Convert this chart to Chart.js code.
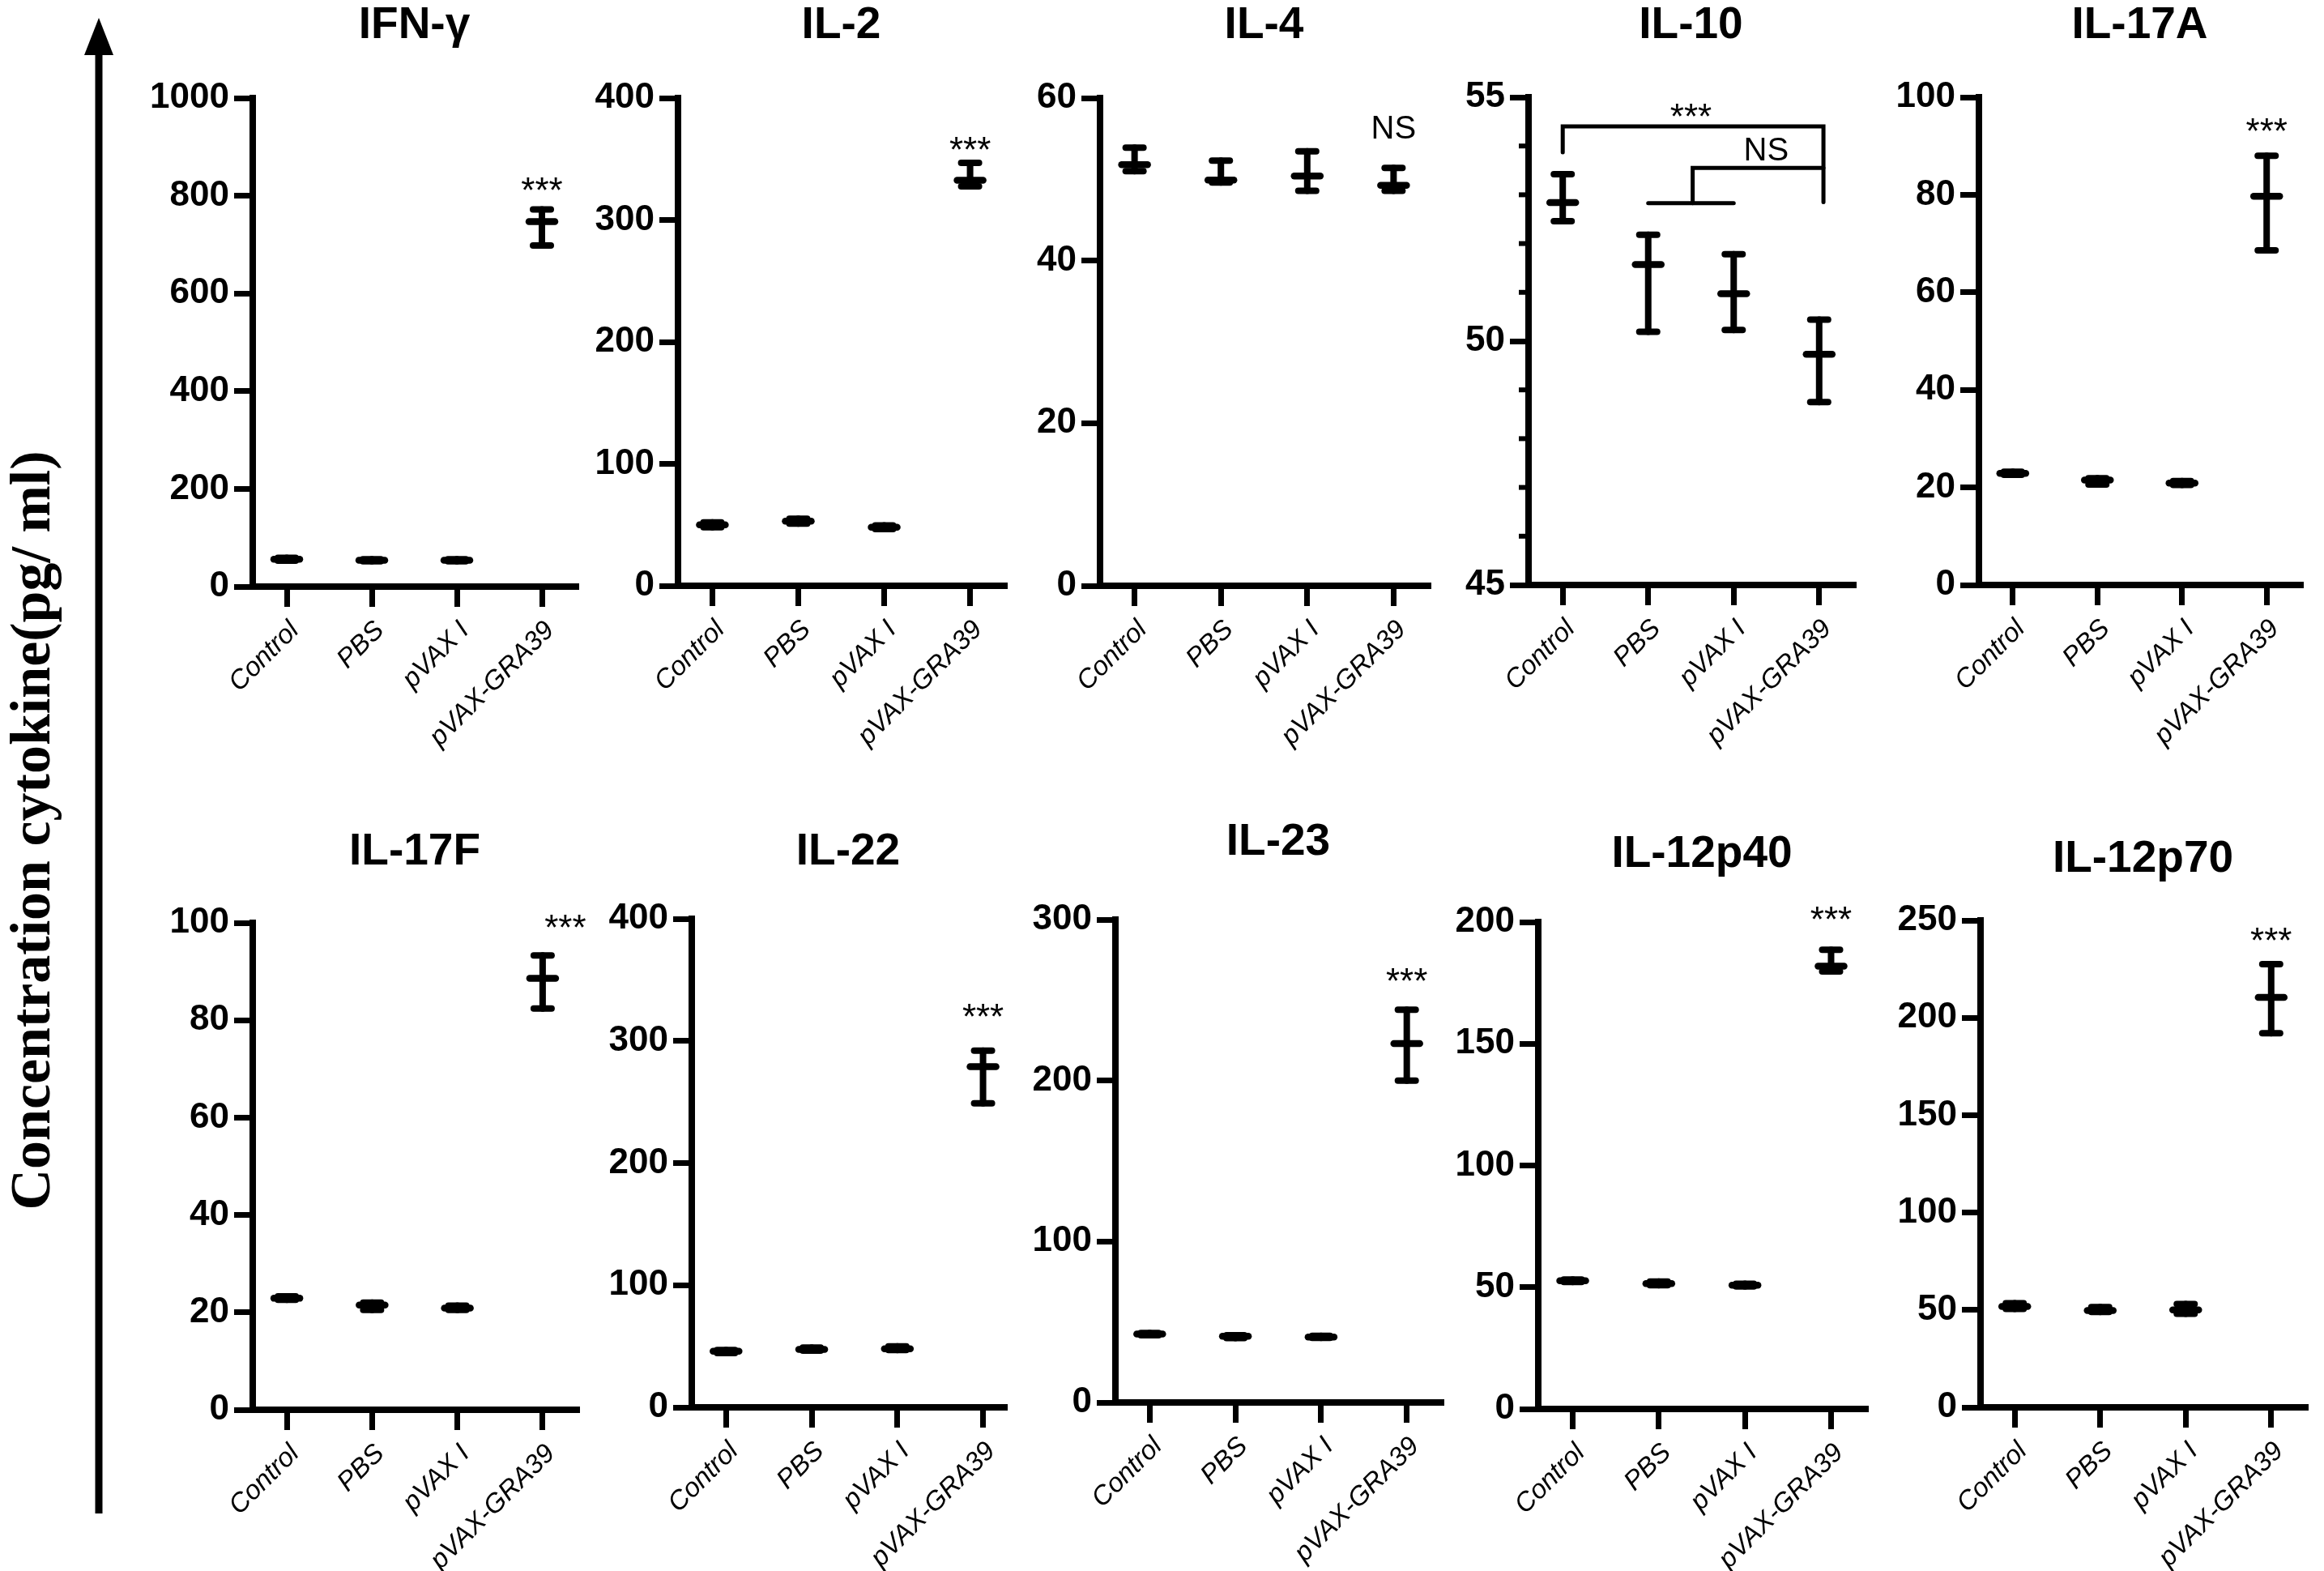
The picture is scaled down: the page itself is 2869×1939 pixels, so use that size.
<!DOCTYPE html>
<html>
<head>
<meta charset="utf-8">
<script src="https://cdn.jsdelivr.net/npm/chart.js@4.4.1/dist/chart.umd.min.js"></script>
<style>
  html, body { margin: 0; background: #fff; }
  #page { position: relative; width: 2869px; height: 1939px; overflow: hidden; background: #fff; }
  #page canvas { position: absolute; }
  #ytitle {
    position: absolute; left: 38px; top: 1025px;
    transform: translate(-50%, -50%) rotate(-90deg);
    font: bold 70px "Liberation Serif", serif; white-space: nowrap; color: #000;
  }
</style>
</head>
<body>
<div id="page">
  <svg style="position:absolute;left:0;top:0" width="200" height="1939">
    <line x1="122" y1="55" x2="122" y2="1868" stroke="#000" stroke-width="9"/>
    <polygon points="122,22 104,68 140,68" fill="#000"/>
  </svg>
  <div id="ytitle">Concentration cytokine(pg/ ml)</div>
</div>
<script>
// groups and panel names
const groups = ['Control', 'PBS', 'pVAX I', 'pVAX-GRA39'];
const titles = ['IFN-γ', 'IL-2', 'IL-4', 'IL-10', 'IL-17A', 'IL-17F', 'IL-22', 'IL-23', 'IL-12p40', 'IL-12p70'];

// mean, upper and lower error bar ends for each cytokine
const ifngMean = [56, 54, 54, 747];
const ifngHigh = [59, 56, 56, 772];
const ifngLow  = [53, 52, 52, 698];

const il2Mean = [50, 53, 48, 332.6];
const il2High = [52, 55, 49.5, 346.8];
const il2Low  = [48, 51, 46.5, 327.6];

const il4Mean = [51.8, 49.9, 50.4, 49.25];
const il4High = [53.9, 52.3, 53.45, 51.4];
const il4Low  = [51.0, 49.6, 48.6, 48.6];

const il10Mean = [52.84, 51.57, 50.97, 49.73];
const il10High = [53.42, 52.18, 51.78, 50.44];
const il10Low  = [52.46, 50.19, 50.23, 48.75];

const il17aMean = [22.9, 21.5, 20.9, 79.7];
const il17aHigh = [23.2, 21.9, 21.3, 88.0];
const il17aLow  = [22.6, 20.6, 20.5, 68.6];

const il17fMean = [22.9, 21.5, 20.9, 88.6];
const il17fHigh = [23.3, 22.0, 21.4, 93.3];
const il17fLow  = [22.6, 20.5, 20.5, 82.4];

const il22Mean = [46, 47.5, 48, 279];
const il22High = [47, 49, 50, 292];
const il22Low  = [44.5, 46.5, 47, 249];

const il23Mean = [42.5, 41.2, 40.7, 223];
const il23High = [43.2, 41.8, 41.4, 244];
const il23Low  = [41.8, 40.0, 40.2, 200];

const il12p40Mean = [52.7, 51.5, 50.8, 181.9];
const il12p40High = [53.2, 52.3, 51.4, 188.6];
const il12p40Low  = [52.2, 50.8, 50.3, 179.7];

const il12p70Mean = [51.8, 49.7, 50.0, 210.5];
const il12p70High = [53.5, 51.5, 53.0, 227.5];
const il12p70Low  = [50.5, 49.0, 48.0, 192.1];

// y axis ranges and tick steps
const yMin  = [0, 0, 0, 45, 0, 0, 0, 0, 0, 0];
const yMax  = [1000, 400, 60, 55, 100, 100, 400, 300, 200, 250];
const yStep = [200, 100, 20, 5, 20, 20, 100, 100, 50, 50];

// significance label over pVAX-GRA39
const marks = ['***', '***', 'NS', '', '***', '***', '***', '***', '***', '***'];

const series = [
  [ifngMean, ifngHigh, ifngLow],
  [il2Mean, il2High, il2Low],
  [il4Mean, il4High, il4Low],
  [il10Mean, il10High, il10Low],
  [il17aMean, il17aHigh, il17aLow],
  [il17fMean, il17fHigh, il17fLow],
  [il22Mean, il22High, il22Low],
  [il23Mean, il23High, il23Low],
  [il12p40Mean, il12p40High, il12p40Low],
  [il12p70Mean, il12p70High, il12p70Low]
];

// where each plot area sits on the page
const boxes = [
  {left: 312,  right: 711,  top: 121,  bottom: 724,  xMax: 3.4,  titleGap: 74, markDx: 0,  markDy: 33},
  {left: 837,  right: 1240, top: 121,  bottom: 723,  xMax: 3.4,  titleGap: 74, markDx: 0,  markDy: 26},
  {left: 1358, right: 1763, top: 121,  bottom: 723,  xMax: 3.4,  titleGap: 74, markDx: 0,  markDy: 50},
  {left: 1887, right: 2288, top: 120,  bottom: 722,  xMax: 3.4,  titleGap: 73, markDx: 0,  markDy: 0},
  {left: 2443, right: 2840, top: 120,  bottom: 722,  xMax: 3.4,  titleGap: 73, markDx: 0,  markDy: 40},
  {left: 312,  right: 712,  top: 1139, bottom: 1740, xMax: 3.4,  titleGap: 72, markDx: 28, markDy: 44},
  {left: 854,  right: 1240, top: 1134, bottom: 1737, xMax: 3.25, titleGap: 67, markDx: 0,  markDy: 52},
  {left: 1377, right: 1779, top: 1135, bottom: 1731, xMax: 3.4,  titleGap: 80, markDx: 0,  markDy: 45},
  {left: 1899, right: 2303, top: 1138, bottom: 1739, xMax: 3.4,  titleGap: 68, markDx: 0,  markDy: 47},
  {left: 2445, right: 2846, top: 1136, bottom: 1737, xMax: 3.4,  titleGap: 60, markDx: 0,  markDy: 39}
];

const Y_AXIS_W = 160;
const X_AXIS_H = 250;
const PAD_LEFT = 10;
const PAD_RIGHT = 40;
const FONT = '"Liberation Sans", Arial, sans-serif';

Chart.defaults.font.family = FONT;
Chart.defaults.color = '#000';

function line(ctx, x1, y1, x2, y2) {
  ctx.beginPath();
  ctx.moveTo(x1, y1);
  ctx.lineTo(x2, y2);
  ctx.stroke();
}

const panelPlugin = {
  id: 'panel',
  beforeDatasetsDraw(chart, args, opts) {
    const {ctx} = chart;
    const x = chart.scales.x, y = chart.scales.y;
    const [mean, high, low] = series[opts.index];
    ctx.save();
    ctx.strokeStyle = '#000';
    ctx.lineCap = 'round';
    ctx.lineWidth = 8;
    high.forEach((h, i) => {
      const px = x.getPixelForValue(i);
      const yh = y.getPixelForValue(h);
      const yl = y.getPixelForValue(low[i]);
      line(ctx, px, yh, px, yl);
      line(ctx, px - 11, yh, px + 11, yh);
      line(ctx, px - 11, yl, px + 11, yl);
    });
    ctx.restore();
    ctx.lineCap = 'round';
  },
  afterDatasetsDraw(chart, args, opts) {
    const {ctx, chartArea} = chart;
    const x = chart.scales.x, y = chart.scales.y;
    const k = opts.index;
    const box = boxes[k];
    ctx.lineCap = 'butt';
    ctx.save();
    ctx.fillStyle = '#000';
    ctx.strokeStyle = '#000';

    // panel title
    ctx.font = 'bold 55px ' + FONT;
    ctx.textAlign = 'center';
    ctx.textBaseline = 'alphabetic';
    ctx.fillText(titles[k], (chartArea.left + chartArea.right) / 2, chartArea.top - box.titleGap);

    // significance label
    const mark = marks[k];
    if (mark) {
      const px = x.getPixelForValue(3) + box.markDx;
      const cy = y.getPixelForValue(series[k][1][3]) - box.markDy;
      if (mark === 'NS') {
        ctx.font = '40px ' + FONT;
        ctx.fillText(mark, px, cy + 14);
      } else {
        ctx.font = '44px ' + FONT;
        ctx.fillText(mark, px, cy + 25);
      }
    }

    // IL-10: minor ticks and comparison brackets
    if (k === 3) {
      ctx.lineWidth = 6;
      for (let v = 46; v < 55; v++) {
        if (v === 50) continue;
        const py = y.getPixelForValue(v);
        line(ctx, chartArea.left - 12, py, chartArea.left, py);
      }
      const X = v => x.getPixelForValue(v);
      const Y = v => y.getPixelForValue(v);
      ctx.lineWidth = 5;
      ctx.lineCap = 'round';
      ctx.lineJoin = 'miter';
      ctx.beginPath();
      ctx.moveTo(X(0), Y(53.87));
      ctx.lineTo(X(0), Y(54.4));
      ctx.lineTo(X(3.05), Y(54.4));
      ctx.lineTo(X(3.05), Y(52.85));
      ctx.stroke();
      ctx.beginPath();
      ctx.moveTo(X(3.05), Y(53.55));
      ctx.lineTo(X(1.52), Y(53.55));
      ctx.lineTo(X(1.52), Y(52.83));
      ctx.stroke();
      line(ctx, X(1), Y(52.83), X(2), Y(52.83));
      ctx.font = '44px ' + FONT;
      ctx.fillText('***', X(1.5), Y(54.77) + 25);
      ctx.font = '40px ' + FONT;
      ctx.fillText('NS', X(2.38), Y(53.94) + 14);
    }
    ctx.restore();
  }
};

const page = document.getElementById('page');

boxes.forEach((box, k) => {
  const padTop = k < 5 ? box.top : box.top - 980;
  const canvasTop = box.top - padTop;
  const w = PAD_LEFT + Y_AXIS_W + (box.right - box.left) + PAD_RIGHT;
  const h = padTop + (box.bottom - box.top) + X_AXIS_H;
  const canvas = document.createElement('canvas');
  canvas.width = w;
  canvas.height = h;
  canvas.style.left = (box.left - Y_AXIS_W - PAD_LEFT) + 'px';
  canvas.style.top = canvasTop + 'px';
  canvas.style.width = w + 'px';
  canvas.style.height = h + 'px';
  page.appendChild(canvas);

  const mean = series[k][0];

  new Chart(canvas, {
    type: 'scatter',
    data: {
      datasets: [{
        data: mean.map((v, i) => ({x: i, y: v})),
        pointStyle: 'line',
        pointRadius: 16,
        pointBorderWidth: 8.5,
        pointBorderColor: '#000',
        pointBackgroundColor: '#000',
        clip: false
      }]
    },
    options: {
      responsive: false,
      animation: false,
      devicePixelRatio: 1,
      events: [],
      layout: {padding: {left: PAD_LEFT, right: PAD_RIGHT, top: padTop, bottom: 0}},
      plugins: {
        legend: {display: false},
        tooltip: {enabled: false},
        panel: {index: k}
      },
      scales: {
        x: {
          type: 'linear',
          min: -0.4,
          max: box.xMax,
          afterBuildTicks: s => { s.ticks = groups.map((g, i) => ({value: i})); },
          afterFit: s => { s.height = X_AXIS_H; },
          ticks: {
            autoSkip: false,
            minRotation: 45,
            maxRotation: 45,
            padding: 10,
            labelOffset: 10,
            color: '#000',
            font: {family: FONT, style: 'italic', size: 33},
            callback: (v, i) => groups[i]
          },
          grid: {drawOnChartArea: false, lineWidth: 7, tickLength: 25, tickWidth: 7, tickColor: '#000'},
          border: {color: '#000', width: 8}
        },
        y: {
          min: yMin[k],
          max: yMax[k],
          afterFit: s => { s.width = Y_AXIS_W; },
          ticks: {
            stepSize: yStep[k],
            padding: 6,
            color: '#000',
            font: {family: FONT, weight: 'bold', size: 44},
            callback: v => String(v)
          },
          grid: {drawOnChartArea: false, lineWidth: 7, tickLength: 23, tickWidth: 7, tickColor: '#000'},
          border: {color: '#000', width: 8}
        }
      }
    },
    plugins: [panelPlugin]
  });
});
</script>
</body>
</html>
